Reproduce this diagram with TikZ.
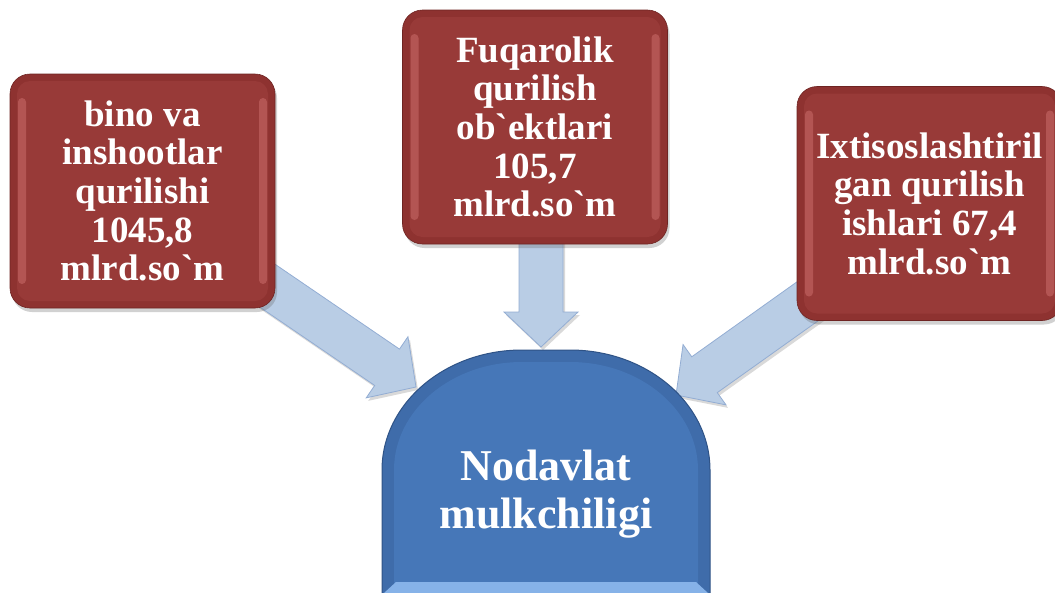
\documentclass[tikz,border=0pt]{standalone}
\usepackage{fontspec}
\setmainfont{Liberation Serif}
\usetikzlibrary{calc,shadows}
\definecolor{redrim}{HTML}{8E3230}
\definecolor{redmain}{HTML}{983A38}
\definecolor{redhl}{HTML}{D67876}
\definecolor{reddark}{HTML}{6E2422}
\definecolor{bluerim}{HTML}{3F6CAA}
\definecolor{bluemain}{HTML}{4677B8}
\definecolor{bluedark}{HTML}{2F5386}
\definecolor{bluehl}{HTML}{86B2E8}
\definecolor{arrfill}{HTML}{B9CDE5}
\definecolor{arrdraw}{HTML}{93ADD3}
\newcommand{\grv}{\textasciigrave}
\newcommand{\blockarrow}[2]{%
  \coordinate (#2h) at ($(#2)!35pt!(#1)$);
  \draw[barrow] ($(#1)!22pt!90:(#2)$) -- ($(#2h)!22pt!-90:(#1)$) -- ($(#2h)!37pt!-90:(#1)$) -- (#2)
     -- ($(#2h)!37pt!90:(#1)$) -- ($(#2h)!22pt!90:(#1)$) -- ($(#1)!22pt!-90:(#2)$) -- cycle;}
\begin{document}
\begin{tikzpicture}[x=1pt,y=-1pt,
  barrow/.style={fill=arrfill, draw=arrdraw, line width=0.8pt, line join=miter,
    drop shadow={shadow xshift=2pt, shadow yshift=-3pt, opacity=.25, fill=black!60}},
  redbox/.style={rounded corners=20pt, minimum width=265pt, minimum height=234pt, inner sep=0pt,
    fill=redrim, draw=reddark, line width=0.6pt, text=white, align=center,
    font=\fontsize{37pt}{38.7pt}\selectfont\bfseries,
    drop shadow={shadow xshift=2pt, shadow yshift=-4pt, opacity=.3, fill=black!60},
    path picture={
      \fill[redmain, rounded corners=13pt] ([shift={(7pt,-7pt)}]path picture bounding box.north west) rectangle ([shift={(-7pt,7pt)}]path picture bounding box.south east);
      \fill[redhl, opacity=.45, rounded corners=4pt] ([shift={(8pt,-24pt)}]path picture bounding box.north west) rectangle ([shift={(16pt,24pt)}]path picture bounding box.south west);
      \fill[redhl, opacity=.45, rounded corners=4pt] ([shift={(-16pt,-24pt)}]path picture bounding box.north east) rectangle ([shift={(-8pt,24pt)}]path picture bounding box.south east);
    }},
  bluetext/.style={text=white, align=center, font=\fontsize{44pt}{48pt}\selectfont\bfseries}
]
\useasboundingbox (0,0) rectangle (1055,592);
\clip (0,0) rectangle (1055,592);

% arrows (tails hidden under boxes)
\coordinate (t1) at (221,254); \coordinate (p1) at (416,387);
\coordinate (t2) at (541,200); \coordinate (p2) at (541,347);
\coordinate (t3) at (867,259); \coordinate (p3) at (676,395);
\blockarrow{t1}{p1}
\blockarrow{t2}{p2}
\blockarrow{t3}{p3}

% red boxes
\node[redbox] (b1) at (142.5,191) {bino va\\inshootlar\\qurilishi\\1045,8\\mlrd.so\grv m};
\node[redbox] (b2) at (535,127) {Fuqarolik\\qurilish\\ob\grv ektlari\\105,7\\mlrd.so\grv m};
\node[redbox] (b3) at (929.5,203.5) {Ixtisoslashtiril\\gan qurilish\\ishlari 67,4\\mlrd.so\grv m};

% blue shape
\fill[bluerim, draw=bluedark, line width=1pt] (382,600) -- (382,470) .. controls (382,403.8) and (444.7,350) .. (522,350)
  -- (570,350) .. controls (647.3,350) and (710,403.8) .. (710,470) -- (710,600) -- cycle;
\fill[bluemain] (394,600) -- (394,470) .. controls (394,410.4) and (451.3,362) .. (522,362)
  -- (570,362) .. controls (640.7,362) and (698,410.4) .. (698,470) -- (698,600) -- cycle;
\fill[bluehl] (384,593) -- (396,582) -- (696,582) -- (708,593) -- cycle;
\node[bluetext] (nod) at (546,494) {Nodavlat\\mulkchiligi};
\end{tikzpicture}
\end{document}
